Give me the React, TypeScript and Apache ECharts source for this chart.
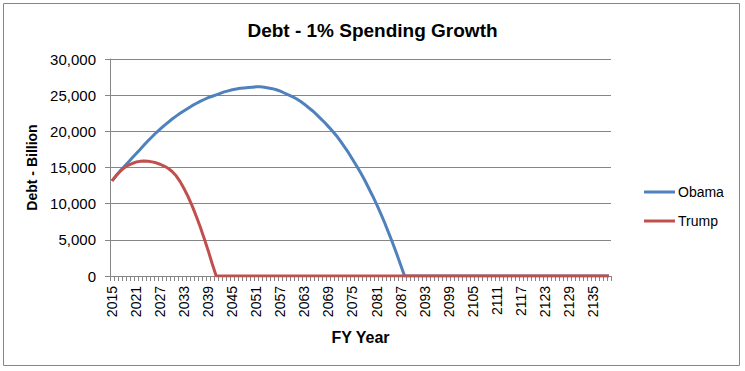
import React, { useEffect, useRef } from "react";
import * as echarts from "echarts";

const titleText = "Debt - 1% Spending Growth";
const yAxisTitle = "Debt - Billion";
const xAxisTitle = "FY Year";
const seriesNames = ["Obama", "Trump"];

const firstYear = 2015;
const lastYear = 2139;
const years: string[] = [];
for (let y = firstYear; y <= lastYear; y++) years.push(String(y));

// Obama debt, FY2015..FY2139 (billion)
const obamaDebt = [
  13150, 13850, 14500, 15100, 15700, 16300, 16900, 17500, 18100, 18700,
  19250, 19800, 20300, 20800, 21250, 21700, 22100, 22500, 22850, 23200,
  23550, 23850, 24150, 24400, 24650, 24850, 25050, 25250, 25450, 25600,
  25750, 25850, 25950, 26000, 26050, 26100, 26150, 26150, 26100, 26000,
  25900, 25750, 25550, 25300, 25050, 24800, 24500, 24150, 23750, 23300,
  22850, 22350, 21800, 21250, 20650, 20050, 19400, 18650, 17850, 17050,
  16150, 15250, 14300, 13300, 12200, 11100, 9950, 8700, 7400, 6000,
  4600, 3100, 1550, 0,
  0, 0, 0, 0, 0, 0, 0, 0, 0, 0,
  0, 0, 0, 0, 0, 0, 0, 0, 0, 0,
  0, 0, 0, 0, 0, 0, 0, 0, 0, 0,
  0, 0, 0, 0, 0, 0, 0, 0, 0, 0,
  0, 0, 0, 0, 0, 0, 0, 0, 0, 0,
  0,
];

// Trump debt, FY2015..FY2139 (billion)
const trumpDebt = [
  13150, 13850, 14450, 14950, 15300, 15550, 15750, 15850, 15900, 15870,
  15780, 15650, 15450, 15200, 14900, 14450, 13850, 13050, 12050, 10950,
  9700, 8300, 6800, 5200, 3500, 1700, 0,
  0, 0, 0, 0, 0, 0, 0, 0, 0, 0,
  0, 0, 0, 0, 0, 0, 0, 0, 0, 0,
  0, 0, 0, 0, 0, 0, 0, 0, 0, 0,
  0, 0, 0, 0, 0, 0, 0, 0, 0, 0,
  0, 0, 0, 0, 0, 0, 0, 0, 0, 0,
  0, 0, 0, 0, 0, 0, 0, 0, 0, 0,
  0, 0, 0, 0, 0, 0, 0, 0, 0, 0,
  0, 0, 0, 0, 0, 0, 0, 0, 0, 0,
  0, 0, 0, 0, 0, 0, 0, 0, 0, 0,
  0, 0, 0, 0, 0, 0, 0, 0,
];

const FONT = "'Liberation Sans', Arial, sans-serif";

export default function App() {
  const ref = useRef<HTMLDivElement>(null);
  useEffect(() => {
    document.body.style.margin = "0";
    const chart = echarts.init(ref.current!, undefined, { renderer: "svg" });
    chart.setOption({
      animation: false,
      backgroundColor: "#ffffff",
      textStyle: { fontFamily: FONT },
      title: {
        text: titleText,
        left: "center",
        top: 16,
        textStyle: { fontFamily: FONT, fontSize: 19, fontWeight: "bold", color: "#000" },
      },
      graphic: [
        {
          type: "rect",
          shape: { x: 3.5, y: 3.5, width: 736, height: 362 },
          style: { fill: "none", stroke: "#868686", lineWidth: 1 },
          silent: true,
        },
      ],
      legend: {
        orient: "vertical",
        left: 639,
        top: 180,
        itemWidth: 31,
        itemHeight: 3,
        itemGap: 15,
        icon: "rect",
        data: seriesNames,
        textStyle: { fontFamily: FONT, fontSize: 14, color: "#000", padding: [0, 0, 0, -2] },
      },
      grid: { left: 110, right: 134, top: 59, bottom: 95, containLabel: false },
      xAxis: {
        type: "category",
        data: years,
        boundaryGap: true,
        name: xAxisTitle,
        nameLocation: "middle",
        nameGap: 53,
        nameTextStyle: { fontFamily: FONT, fontSize: 16, fontWeight: "bold", color: "#000" },
        axisLine: { show: true, lineStyle: { color: "#868686", width: 1 } },
        axisTick: { show: true, interval: 0, length: 5, alignWithLabel: false, lineStyle: { color: "#868686" } },
        axisLabel: {
          interval: 5,
          rotate: 90,
          margin: 10,
          fontFamily: FONT,
          fontSize: 14,
          color: "#000",
        },
        splitLine: { show: false },
      },
      yAxis: {
        type: "value",
        min: 0,
        max: 30000,
        interval: 5000,
        name: yAxisTitle,
        nameLocation: "middle",
        nameGap: 68,
        nameRotate: 90,
        nameTextStyle: { fontFamily: FONT, fontSize: 14, fontWeight: "bold", color: "#000" },
        axisLine: { show: true, lineStyle: { color: "#868686", width: 1 } },
        axisTick: { show: true, length: 5, lineStyle: { color: "#868686" } },
        axisLabel: {
          margin: 14,
          fontFamily: FONT,
          fontSize: 15,
          color: "#000",
          formatter: (v: number) => v.toLocaleString("en-US"),
        },
        splitLine: { show: true, lineStyle: { color: "#868686", width: 1 } },
      },
      series: [
        {
          name: seriesNames[0],
          type: "line",
          data: obamaDebt,
          showSymbol: false,
          symbol: "none",
          smooth: false,
          lineStyle: { color: "#4F81BD", width: 3 },
          itemStyle: { color: "#4F81BD" },
        },
        {
          name: seriesNames[1],
          type: "line",
          data: trumpDebt,
          showSymbol: false,
          symbol: "none",
          smooth: false,
          lineStyle: { color: "#C0504D", width: 3 },
          itemStyle: { color: "#C0504D" },
        },
      ],
    });
    return () => chart.dispose();
  }, []);
  return <div ref={ref} style={{ width: 745, height: 371 }} />;
}
